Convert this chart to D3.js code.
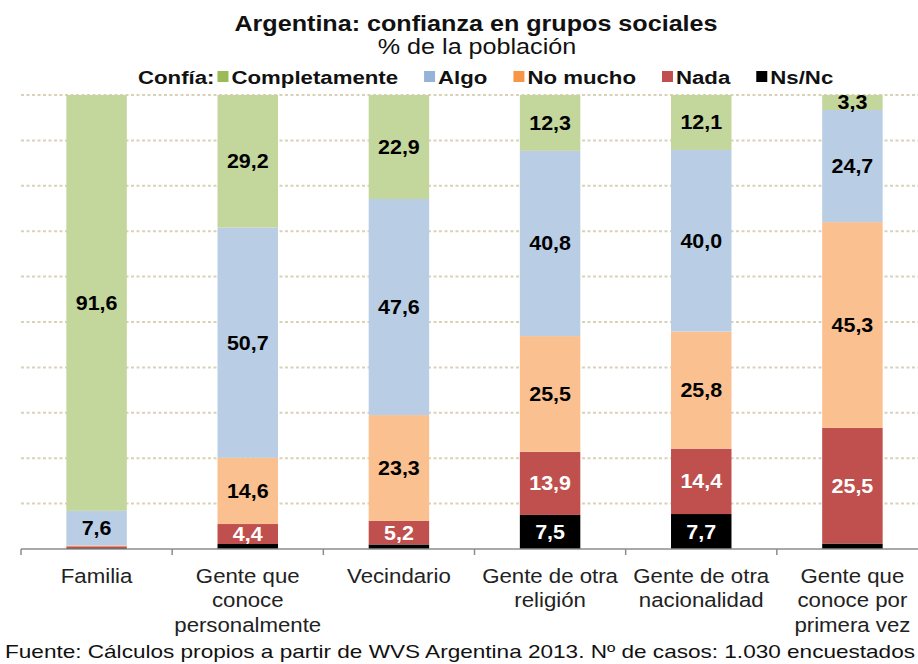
<!DOCTYPE html>
<html>
<head>
<meta charset="utf-8">
<script src="https://cdn.jsdelivr.net/npm/d3@7"></script>
<style>
  body { margin: 0; background: #fff; }
  svg { display: block; font-family: "Liberation Sans", Arial, sans-serif; }
</style>
</head>
<body>
<div id="chart"></div>
<script>
// categorías (cada una en líneas, como en el eje)
const categories = [
    ["Familia"],
    ["Gente que", "conoce", "personalmente"],
    ["Vecindario"],
    ["Gente de otra", "religión"],
    ["Gente de otra", "nacionalidad"],
    ["Gente que", "conoce por", "primera vez"]
];

// % de la población, de abajo hacia arriba: Ns/Nc, Nada, No mucho, Algo, Completamente
const nsnc          = [0.2, 1.1, 1.0, 7.5, 7.7, 1.2];
const nada          = [0.4, 4.4, 5.2, 13.9, 14.4, 25.5];
const noMucho       = [0.2, 14.6, 23.3, 25.5, 25.8, 45.3];
const algo          = [7.6, 50.7, 47.6, 40.8, 40.0, 24.7];
const completamente = [91.6, 29.2, 22.9, 12.3, 12.1, 3.3];

const seriesNames = ["Completamente", "Algo", "No mucho", "Nada", "Ns/Nc"];
const seriesKeys  = ["completamente", "algo", "noMucho", "nada", "nsnc"];
const barColors    = ["#C3D69B", "#B9CDE5", "#FAC090", "#C0504D", "#000000"];
const legendColors = ["#9BBB59", "#95B3D7", "#F79646", "#C0504D", "#000000"];
const labelColors  = ["#000", "#000", "#000", "#fff", "#fff"];

const width = 918;
const height = 664;
const SX = 1.17; // el texto del original está algo ensanchado

const rows = categories.map((c, i) => ({
    key: c.join(" "),
    lines: c,
    completamente: completamente[i],
    algo: algo[i],
    noMucho: noMucho[i],
    nada: nada[i],
    nsnc: nsnc[i]
}));

const svg = d3.select("#chart")
    .append("svg")
    .attr("width", width)
    .attr("height", height);

const xScale = d3.scaleBand()
    .domain(rows.map(d => d.key))
    .range([21, 928])
    .paddingInner(0.6)
    .paddingOuter(0.3);

const yScale = d3.scaleLinear()
    .domain([0, 100])
    .range([549, 95]);

const colorScale = d3.scaleOrdinal().domain(seriesKeys).range(barColors);
const labelColor = d3.scaleOrdinal().domain(seriesKeys).range(labelColors);
const fmt = v => d3.format(".1f")(v).replace(".", ",");

// gridlines
svg.append("g")
    .selectAll("line")
    .data(yScale.ticks(10).filter(t => t > 0))
    .enter()
    .append("line")
    .attr("x1", 21)
    .attr("x2", width)
    .attr("y1", d => yScale(d))
    .attr("y2", d => yScale(d))
    .attr("stroke", "#D9D2B8")
    .attr("stroke-width", 2)
    .attr("stroke-dasharray", "3,2.5");

// barras apiladas (de abajo hacia arriba)
const stackOrder = seriesKeys.slice().reverse();
const stacked = d3.stack().keys(stackOrder)(rows);

const layers = svg.append("g")
    .selectAll("g")
    .data(stacked)
    .enter()
    .append("g")
    .attr("fill", d => colorScale(d.key));

layers.selectAll("rect")
    .data(d => d)
    .enter()
    .append("rect")
    .attr("x", d => xScale(d.data.key))
    .attr("y", d => yScale(d[1]))
    .attr("width", xScale.bandwidth())
    .attr("height", d => yScale(d[0]) - yScale(d[1]));

// eje x
const axis = svg.append("g");
axis.append("line")
    .attr("x1", 21)
    .attr("x2", width)
    .attr("y1", yScale(0))
    .attr("y2", yScale(0))
    .attr("stroke", "#8C8C8C")
    .attr("stroke-width", 1.5);

axis.selectAll(".tick")
    .data(d3.range(rows.length + 1))
    .enter()
    .append("line")
    .attr("class", "tick")
    .attr("x1", i => 21 + i * xScale.step())
    .attr("x2", i => 21 + i * xScale.step())
    .attr("y1", yScale(0))
    .attr("y2", yScale(0) + 6)
    .attr("stroke", "#8C8C8C")
    .attr("stroke-width", 1.5);

// etiquetas de valores
const LX = 1.1;
const labels = svg.append("g").attr("transform", `scale(${LX},1)`);
stacked.forEach(layer => {
    labels.selectAll(null)
        .data(layer.filter(d => d[1] - d[0] >= 3))
        .enter()
        .append("text")
        .attr("x", d => (xScale(d.data.key) + xScale.bandwidth() / 2) / LX)
        .attr("y", d => (yScale(d[0]) + yScale(d[1])) / 2 + 7)
        .attr("text-anchor", "middle")
        .attr("font-size", "19.5px")
        .attr("font-weight", "bold")
        .attr("fill", labelColor(layer.key))
        .text(d => fmt(d[1] - d[0]));
});

// nombres de categorías
const CX = 1.14;
const catLabels = svg.append("g").attr("transform", `scale(${CX},1)`);
rows.forEach(r => {
    const t = catLabels.append("text")
        .attr("text-anchor", "middle")
        .attr("font-size", "19.5px")
        .attr("fill", "#222");
    r.lines.forEach((line, j) => {
        t.append("tspan")
            .attr("x", (xScale(r.key) + xScale.bandwidth() / 2) / CX)
            .attr("y", 583 + j * 24.5)
            .text(line);
    });
});

// título
const head = svg.append("g").attr("transform", `scale(${SX},1)`);
head.append("text")
    .attr("x", 476 / SX)
    .attr("y", 31)
    .attr("text-anchor", "middle")
    .attr("font-size", "21.5px")
    .attr("font-weight", "bold")
    .attr("fill", "#111")
    .text("Argentina: confianza en grupos sociales");

head.append("text")
    .attr("x", 477 / SX)
    .attr("y", 54)
    .attr("text-anchor", "middle")
    .attr("font-size", "21.5px")
    .attr("fill", "#111")
    .text("% de la población");

// leyenda
const legend = svg.append("g");
let lx = 138;
const ly = 84;
const addText = (txt) => {
    const t = legend.append("text")
        .attr("transform", `translate(${lx},${ly}) scale(${SX},1)`)
        .attr("font-size", "19px")
        .attr("font-weight", "bold")
        .attr("fill", "#111")
        .text(txt);
    lx += t.node().getComputedTextLength() * SX;
};
addText("Confía:");
seriesNames.forEach((name, i) => {
    lx += 3;
    legend.append("rect")
        .attr("x", lx)
        .attr("y", ly - 13)
        .attr("width", 11)
        .attr("height", 11)
        .attr("fill", legendColors[i]);
    lx += 14;
    addText(name);
    lx += 23;
});

// fuente
svg.append("text")
    .attr("x", 5)
    .attr("y", 658)
    .attr("font-size", "18.5px")
    .attr("fill", "#111")
    .attr("textLength", 910)
    .attr("lengthAdjust", "spacingAndGlyphs")
    .text("Fuente: Cálculos propios a partir de WVS Argentina 2013. Nº de casos: 1.030 encuestados");
</script>
</body>
</html>
